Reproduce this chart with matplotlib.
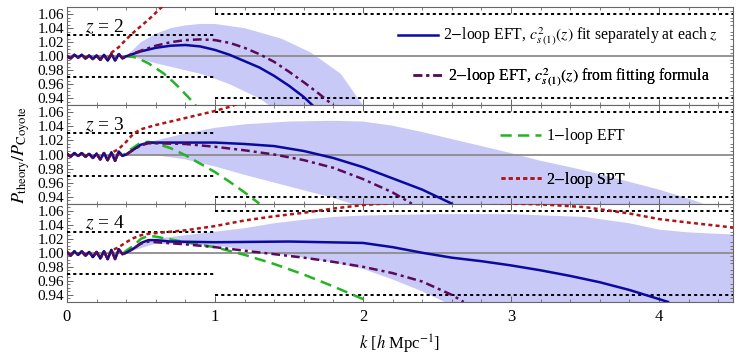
import numpy as np
import matplotlib
matplotlib.use("Agg")
import matplotlib.pyplot as plt
from matplotlib.ticker import MultipleLocator
from matplotlib.lines import Line2D

plt.rcParams['font.family'] = ['Liberation Serif', 'DejaVu Serif']
plt.rcParams['mathtext.fontset'] = 'stix'

# ---------------------------------------------------------------
# dados (razão P_theory / P_Coyote)
# ---------------------------------------------------------------
redshifts = [2, 3, 4]

# oscilações em k baixo (comuns às curvas de cada painel)
k_low = [0.0, 0.025, 0.05, 0.075, 0.1, 0.125, 0.15, 0.175, 0.2, 0.225,
         0.25, 0.275, 0.3, 0.325, 0.35, 0.375]
wig_z2 = [1.0, 0.997, 1.002, 0.998, 1.002, 0.997, 1.001, 0.996, 1.001, 0.995,
          1.002, 0.994, 1.003, 0.994, 1.003, 0.997]
wig_z3 = [1.001, 0.997, 1.002, 0.998, 1.002, 0.997, 1.001, 0.995, 1.001, 0.993,
          1.002, 0.992, 1.003, 0.991, 1.004, 0.998]
wig_z4 = [1.001, 0.996, 1.002, 0.997, 1.002, 0.996, 1.001, 0.994, 1.001, 0.992,
          1.002, 0.991, 1.004, 0.991, 1.005, 0.998]
n_red = 12  # o SPT sai das oscilações antes (k ~ 0.3)

# 2-loop EFT, c_s ajustado separadamente (azul)
kb_z2 = [0.4, 0.5, 0.6, 0.7, 0.8, 0.9, 1.0, 1.1, 1.2, 1.3, 1.4, 1.5, 1.6, 1.66]
pb_z2 = [1.0, 1.007, 1.012, 1.015, 1.016, 1.014, 1.009, 1.002, 0.993, 0.984, 0.972, 0.958, 0.942, 0.93]
kb_z3 = [0.4, 0.45, 0.5, 0.55, 0.6, 0.8, 1.0, 1.2, 1.4, 1.6, 1.8, 2.0, 2.2, 2.4, 2.6]
pb_z3 = [1.0, 1.007, 1.014, 1.017, 1.017, 1.017, 1.017, 1.015, 1.012, 1.005, 0.995, 0.982, 0.966, 0.95, 0.93]
kb_z4 = [0.4, 0.45, 0.5, 0.55, 0.6, 0.7, 1.0, 1.5, 2.0, 2.2, 2.4, 2.6, 2.8, 3.0, 3.2, 3.4, 3.6, 3.8, 4.0, 4.06]
pb_z4 = [1.0, 1.006, 1.014, 1.018, 1.018, 1.016, 1.015, 1.016, 1.014, 1.008, 1.0, 0.993, 0.988,
         0.982, 0.975, 0.967, 0.958, 0.947, 0.934, 0.93]

# 2-loop EFT, c_s da fórmula de ajuste (roxo)
kp_z2 = [0.4, 0.5, 0.6, 0.7, 0.8, 0.9, 1.0, 1.1, 1.2, 1.3, 1.4, 1.5, 1.6, 1.7, 1.8]
pp_z2 = [1.0, 1.008, 1.015, 1.020, 1.023, 1.024, 1.023, 1.019, 1.012, 1.003, 0.992, 0.978, 0.963, 0.947, 0.93]
kp_z3 = [0.4, 0.45, 0.5, 0.55, 0.6, 0.8, 1.0, 1.2, 1.4, 1.6, 1.8, 2.0, 2.2, 2.33]
pp_z3 = [1.0, 1.007, 1.013, 1.016, 1.016, 1.015, 1.011, 1.006, 1.0, 0.992, 0.981, 0.965, 0.946, 0.93]
kp_z4 = [0.4, 0.45, 0.5, 0.55, 0.6, 0.8, 1.0, 1.2, 1.4, 1.6, 1.8, 2.0, 2.2, 2.4, 2.6, 2.68]
pp_z4 = [1.0, 1.006, 1.013, 1.016, 1.015, 1.012, 1.008, 1.003, 0.998, 0.993, 0.987, 0.98, 0.971,
         0.959, 0.94, 0.93]

# 1-loop EFT (verde)
kg_z2 = [0.4, 0.45, 0.5, 0.55, 0.6, 0.65, 0.7, 0.75, 0.8, 0.85, 0.87]
pg_z2 = [1.0, 0.999, 0.995, 0.99, 0.983, 0.976, 0.967, 0.957, 0.946, 0.935, 0.93]
kg_z3 = [0.4, 0.45, 0.5, 0.55, 0.6, 0.7, 0.8, 0.9, 1.0, 1.1, 1.2, 1.3]
pg_z3 = [1.003, 1.01, 1.017, 1.018, 1.016, 1.009, 0.999, 0.987, 0.975, 0.961, 0.946, 0.93]
kg_z4 = [0.4, 0.45, 0.5, 0.55, 0.6, 0.7, 0.8, 1.0, 1.2, 1.4, 1.6, 1.8, 2.0, 2.03]
pg_z4 = [1.003, 1.01, 1.02, 1.024, 1.023, 1.019, 1.015, 1.008, 0.997, 0.984, 0.969, 0.952, 0.934, 0.93]

# 2-loop SPT (vermelho)
kr_z2 = [0.3, 0.35, 0.4, 0.45, 0.5, 0.55, 0.6, 0.65]
pr_z2 = [1.005, 1.013, 1.024, 1.034, 1.043, 1.052, 1.062, 1.072]
kr_z3 = [0.3, 0.35, 0.4, 0.45, 0.5, 0.6, 0.7, 0.8, 0.9, 1.0, 1.1, 1.15]
pr_z3 = [1.002, 1.008, 1.018, 1.03, 1.036, 1.042, 1.047, 1.052, 1.057, 1.062, 1.068, 1.072]
kr_z4 = [0.3, 0.35, 0.4, 0.45, 0.5, 0.55, 0.6, 0.8, 1.0, 1.2, 1.4, 1.6, 1.8, 2.0, 2.2, 2.5, 2.8,
         3.0, 3.2, 3.5, 3.8, 4.0, 4.2, 4.5]
pr_z4 = [1.003, 1.008, 1.015, 1.021, 1.025, 1.027, 1.028, 1.032, 1.038, 1.046, 1.052, 1.057,
         1.063, 1.068, 1.071, 1.073, 1.072, 1.07, 1.069, 1.065, 1.056, 1.048, 1.043, 1.036]

# faixa de incerteza (borda superior e inferior)
ku_z2 = [0.4, 0.5, 0.6, 0.7, 0.8, 0.9, 1.0, 1.2, 1.45, 1.65, 1.85, 2.0]
bu_z2 = [1.0, 1.02, 1.032, 1.04, 1.044, 1.046, 1.046, 1.04, 1.025, 1.005, 0.975, 0.93]
kl_z2 = [0.4, 0.5, 0.6, 0.7, 0.8, 0.9, 1.0, 1.1, 1.2, 1.3, 1.4]
bl_z2 = [1.0, 0.996, 0.99, 0.985, 0.98, 0.975, 0.968, 0.96, 0.95, 0.94, 0.925]
ku_z3 = [0.4, 0.5, 0.6, 0.8, 1.0, 1.2, 1.5, 1.8, 2.0, 2.2, 2.4, 2.6, 2.8, 3.0, 3.2, 3.4,
         3.6, 3.8, 4.0, 4.2, 4.3]
bu_z3 = [1.0, 1.012, 1.02, 1.03, 1.038, 1.043, 1.047, 1.048, 1.047, 1.041, 1.032, 1.022,
         1.012, 1.002, 0.991, 0.982, 0.972, 0.961, 0.95, 0.937, 0.93]
kl_z3 = [0.4, 0.5, 0.6, 0.8, 1.0, 1.2, 1.4, 1.6, 1.8, 2.0]
bl_z3 = [1.0, 1.0, 0.999, 0.993, 0.983, 0.971, 0.96, 0.949, 0.938, 0.925]
ku_z4 = [0.4, 0.5, 0.6, 0.8, 1.0, 1.2, 1.4, 1.6, 1.8, 2.0, 2.5, 3.0, 3.5, 3.8, 4.0, 4.2, 4.5]
bu_z4 = [1.0, 1.014, 1.02, 1.025, 1.03, 1.035, 1.042, 1.047, 1.051, 1.053, 1.055, 1.055,
         1.051, 1.042, 1.033, 1.029, 1.026]
kl_z4 = [0.4, 0.6, 0.8, 1.0, 1.2, 1.4, 1.6, 1.8, 2.0, 2.2, 2.4, 2.6, 4.5]
bl_z4 = [1.0, 1.013, 1.012, 1.01, 1.005, 0.999, 0.993, 0.986, 0.977, 0.962, 0.945, 0.925, 0.92]

# tolerâncias: ±3% para k<1 e ±6% para k>1
tol_k = [(0.0, 1.0), (1.0, 4.5)]
tol_val = [0.03, 0.06]

x_ticks = [0, 1, 2, 3, 4]
y_ticks = [0.94, 0.96, 0.98, 1.00, 1.02, 1.04, 1.06]

panels = [
    (wig_z2, kb_z2, pb_z2, kp_z2, pp_z2, kg_z2, pg_z2, kr_z2, pr_z2, ku_z2, bu_z2, kl_z2, bl_z2),
    (wig_z3, kb_z3, pb_z3, kp_z3, pp_z3, kg_z3, pg_z3, kr_z3, pr_z3, ku_z3, bu_z3, kl_z3, bl_z3),
    (wig_z4, kb_z4, pb_z4, kp_z4, pp_z4, kg_z4, pg_z4, kr_z4, pr_z4, ku_z4, bu_z4, kl_z4, bl_z4),
]

c_blue = '#0a0aa0'
c_purple = '#5a0a5a'
c_green = '#22b422'
c_red = '#b01414'
c_band = '#c9c9f7'
c_frame = '#666666'
dash_purple = (3.5, 1.6, 1.2, 1.6)
dash_green = (4.5, 2.5)
dash_red = (1.6, 1.3)

fig, axes = plt.subplots(3, 1, sharex=True, figsize=(7.5, 3.56), dpi=100)
fig.subplots_adjust(left=0.0893, right=0.9773, bottom=0.152, top=0.980, hspace=0)

for ax, z, data in zip(axes, redshifts, panels):
    wig, kb, pb, kp, pp, kg, pg, kr, pr, ku, bu, kl, bl = data

    # faixa
    ax.fill(np.r_[ku, kl[::-1]], np.r_[bu, bl[::-1]], color=c_band, lw=0, zorder=1)
    ax.axhline(1.0, color='#8c8c8c', lw=1.3, zorder=2)
    for (k0, k1), t in zip(tol_k, tol_val):
        for s in (1, -1):
            ax.plot([k0, k1], [1 + s * t, 1 + s * t], color='black', lw=1.4,
                    dashes=(1.6, 1.6), zorder=3)

    ax.plot(k_low + kg, wig + pg, color=c_green, lw=1.8, dashes=dash_green, zorder=4)
    ax.plot(k_low[:n_red] + kr, wig[:n_red] + pr, color=c_red, lw=1.8, dashes=dash_red, zorder=4)
    ax.plot(k_low + kb, wig + pb, color=c_blue, lw=1.8, zorder=5)
    ax.plot(k_low + kp, wig + pp, color=c_purple, lw=1.8, dashes=dash_purple, zorder=6)

    ax.text(0.027, 0.80, r'$z$ = %d' % z, transform=ax.transAxes, fontsize=14,
            ha='left', va='center')

    ax.set_xlim(0, 4.5)
    ax.set_ylim(0.93, 1.07)
    ax.set_yticks(y_ticks)
    ax.set_yticklabels(['%.2f' % v for v in y_ticks])
    ax.yaxis.set_minor_locator(MultipleLocator(0.005))
    ax.set_xticks(x_ticks)
    ax.xaxis.set_minor_locator(MultipleLocator(0.2))
    ax.tick_params(which='both', direction='in', top=True, right=True,
                   color=c_frame, labelsize=11, pad=2)
    ax.tick_params(which='major', length=4.5, width=0.7)
    ax.tick_params(which='minor', length=2.3, width=0.6)
    ax.tick_params(axis='y', which='major', right=False)
    for sp in ax.spines.values():
        sp.set_color(c_frame)
        sp.set_linewidth(0.8)

axes[-1].set_xticklabels([str(v) for v in x_ticks])
axes[-1].tick_params(axis='x', pad=5, labelsize=12)
axes[-1].set_xlabel(r'$k$ [$h$ Mpc$^{-1}$]', fontsize=12, labelpad=6)
fig.text(0.028, 0.565, r'$P_{\rm theory}/P_{\rm Coyote}$', rotation=90,
         ha='center', va='center', fontsize=13)

# legendas (uma entrada por posição)
entries = [
    (0, Line2D([], [], color=c_blue, lw=1.8),
     r'2$-$loop EFT, $c^2_{s\,(1)}(z)$ fit separately at each $z$', (0.737, 0.694), 2.6),
    (0, Line2D([], [], color=c_purple, lw=1.8, dashes=dash_purple),
     r'2$-$loop EFT, $c^2_{s\,(1)}(z)$ from fitting formula', (0.742, 0.286), 1.9),
    (1, Line2D([], [], color=c_green, lw=1.8, dashes=dash_green),
     r'1$-$loop EFT', (0.745, 0.684), 2.6),
    (1, Line2D([], [], color=c_red, lw=1.8, dashes=dash_red),
     r'2$-$loop SPT', (0.745, 0.245), 2.6),
]
for i, h, lab, pos, hl in entries:
    leg = axes[i].legend(handles=[h], labels=[lab], loc='center', bbox_to_anchor=pos,
                         frameon=False, fontsize=11.3, handlelength=hl, handletextpad=0.3,
                         borderpad=0, borderaxespad=0)
    axes[i].add_artist(leg)

fig.savefig('out.png', dpi=100)
